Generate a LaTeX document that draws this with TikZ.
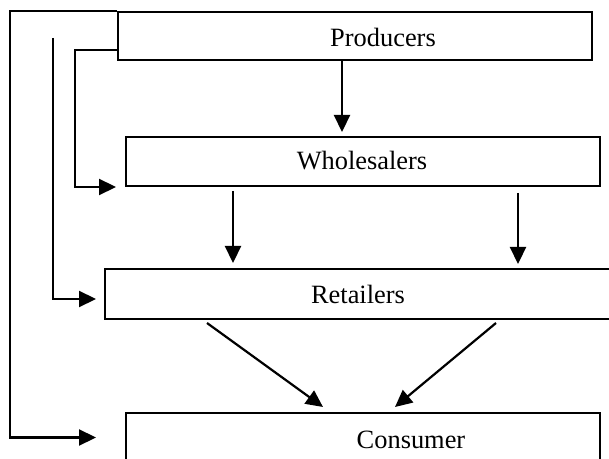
\documentclass[tikz,border=0pt]{standalone}
\usepackage{fontspec}
\setmainfont{Liberation Serif}
\usetikzlibrary{arrows.meta}
\begin{document}
\begin{tikzpicture}[x=0.5pt, y=-0.5pt,
			stage/.style = {rectangle,draw,line width=1pt,inner sep=0pt, minimum width=237pt, minimum height=24.5pt},
			stagename/.style = {anchor=base,inner sep=0pt,font=\fontsize{13.2}{16}\selectfont},
			flow/.style = {draw,line width=1.1pt,-{Triangle[length=8.5pt,width=8pt]}}]

\useasboundingbox (0,0) rectangle (609,459);
\clip (0,0) rectangle (609,459);

\node[stage, minimum height=24pt] (prod) at (355,36) {};
\node[stage] (whole) at (363,161.5) {};
\node[stage, minimum width=260pt, minimum height=25pt] (ret) at (365,294) {};
\node[stage] (cons) at (363,437.5) {};

\node[stagename] (prodname) at (383,47) {Producers};
\node[stagename] (wholename) at (362,170) {Wholesalers};
\node[stagename] (retname) at (358,303) {Retailers};
\node[stagename] (consname) at (411,448) {Consumer};

\coordinate (lane1) at (10,0);
\coordinate (lane2) at (53,38);
\coordinate (lane3) at (75,0);

\draw[flow] (prod.north west) -| (lane1 |- cons.west) -- ([xshift=-14.5pt]cons.west);
\draw[flow] (lane2) |- ([xshift=-4pt,yshift=-2.5pt]ret.west);
\draw[flow] ([yshift=-7pt]prod.west) -| (lane3 |- whole.south west) -- ([xshift=-4.5pt]whole.south west);

\draw[flow, shorten >=2pt] ([xshift=-6.5pt]prod.south) -- ([xshift=-6.5pt]prod.south |- whole.north);
\draw[flow, shorten <=2pt, shorten >=2.5pt] ([xshift=-65pt]whole.south) -- ([xshift=-65pt]whole.south |- ret.north);
\draw[flow, shorten <=3pt, shorten >=2pt] ([xshift=77.5pt]whole.south) -- ([xshift=77.5pt]whole.south |- ret.north);

\draw[flow] ([xshift=-79pt,yshift=-1.5pt]ret.south) -- ([xshift=-20pt,yshift=2.5pt]cons.north);
\draw[flow] ([xshift=65.5pt,yshift=-1.5pt]ret.south) -- ([xshift=16pt,yshift=2.5pt]cons.north);

\end{tikzpicture}
\end{document}
